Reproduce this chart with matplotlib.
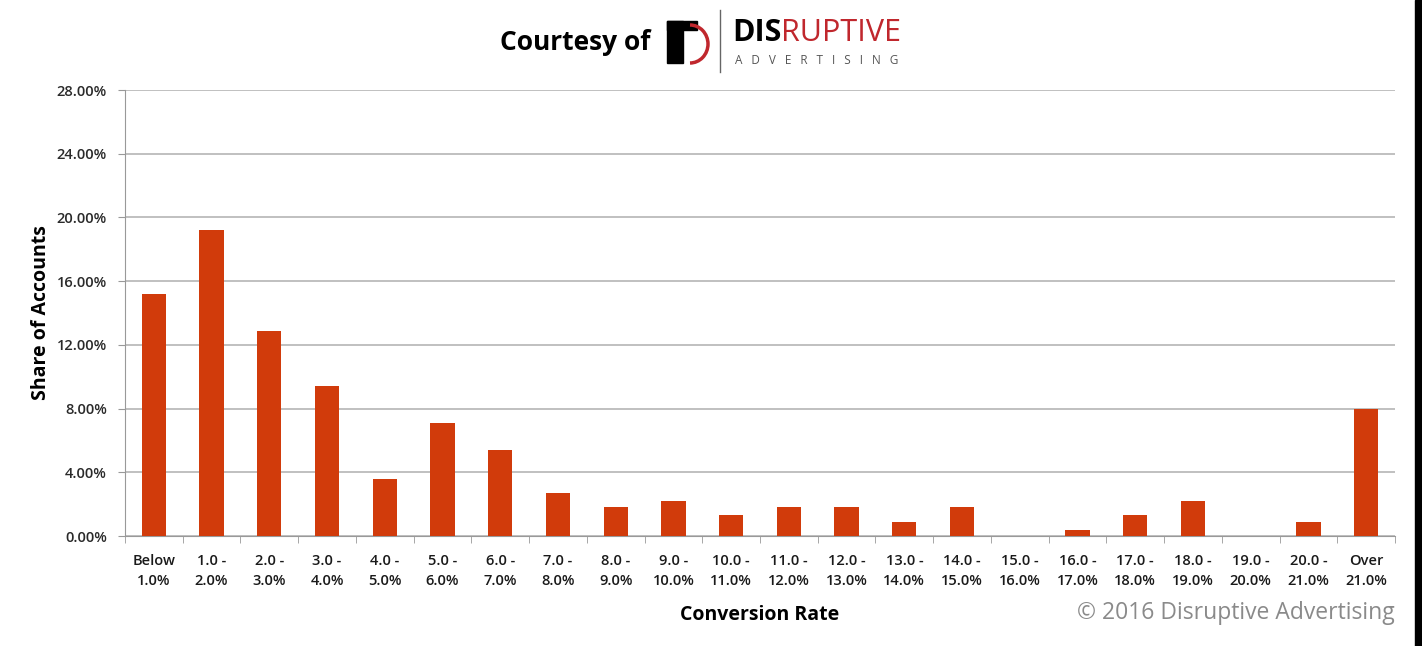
import numpy as np
import matplotlib.pyplot as plt
from matplotlib.patches import Rectangle, Arc

plt.rcParams['font.family'] = ['Open Sans', 'DejaVu Sans']

# conversion rate buckets and share of accounts (%)
categories = ['Below\n1.0%', '1.0 -\n2.0%', '2.0 -\n3.0%', '3.0 -\n4.0%', '4.0 -\n5.0%',
              '5.0 -\n6.0%', '6.0 -\n7.0%', '7.0 -\n8.0%', '8.0 -\n9.0%', '9.0 -\n10.0%',
              '10.0 -\n11.0%', '11.0 -\n12.0%', '12.0 -\n13.0%', '13.0 -\n14.0%',
              '14.0 -\n15.0%', '15.0 -\n16.0%', '16.0 -\n17.0%', '17.0 -\n18.0%',
              '18.0 -\n19.0%', '19.0 -\n20.0%', '20.0 -\n21.0%', 'Over\n21.0%']
share = [15.2, 19.2, 12.9, 9.4, 3.6, 7.1, 5.4, 2.7, 1.8, 2.2, 1.3,
         1.8, 1.8, 0.9, 1.8, 0.0, 0.4, 1.3, 2.2, 0.0, 0.9, 8.0]
yticks = [0, 4, 8, 12, 16, 20, 24, 28]

bar_color = '#d13b0b'

fig = plt.figure(figsize=(14.22, 6.46), dpi=100)
ax = fig.add_axes([125 / 1422, 1 - 536 / 646, 1270 / 1422, 446 / 646])

x = np.arange(len(categories))
ax.bar(x, share, width=0.42, color=bar_color, zorder=3)

ax.set_xlim(-0.5, len(categories) - 0.5)
ax.set_ylim(0, 28)
ax.set_yticks(yticks)
ax.set_yticklabels(['%.2f%%' % v for v in yticks], fontsize=10.5, color='#2a2a2a',
                   fontweight='semibold')
ax.set_xticks(x)
ax.set_xticklabels(categories, fontsize=10.5, color='#1a1a1a', linespacing=1.55,
                   fontweight='semibold')
ax.set_xticks(np.arange(-0.5, len(categories)), minor=True)
ax.tick_params(axis='x', which='major', length=0, pad=13)
ax.tick_params(axis='x', which='minor', length=5, color='#999999')
ax.tick_params(axis='y', length=5, color='#999999', pad=8)

ax.grid(axis='y', color='#b5b5b5', linewidth=1.2, zorder=0)
for s in ['top', 'right']:
    ax.spines[s].set_visible(False)
ax.spines['left'].set_color('#999999')
ax.spines['bottom'].set_color('#999999')

ax.set_ylabel('Share of Accounts', fontsize=14, fontweight='bold', labelpad=4)
ax.set_xlabel('Conversion Rate', fontsize=14, fontweight='bold', labelpad=12)

# footer and header
fig.text(1395 / 1422, 1 - 613 / 646, '\u00a9 2016 Disruptive Advertising', ha='right',
         va='center', fontsize=16.5, color='#8a8a8a')
fig.text(651 / 1422, 1 - 43 / 646, 'Courtesy of', ha='right', va='center',
         fontsize=19, fontweight='bold', color='black')

# simple logo mark
fig.patches.append(Rectangle((667 / 1422, 1 - 63 / 646), 16 / 1422, 42 / 646,
                             transform=fig.transFigure, color='black'))
fig.patches.append(Rectangle((667 / 1422, 1 - 30 / 646), 30 / 1422, 9 / 646,
                             transform=fig.transFigure, color='black'))
fig.patches.append(Arc((690 / 1422, 1 - 44 / 646), 36 / 1422, 38 / 646, theta1=-90, theta2=90,
                       transform=fig.transFigure, color='#c0272d', linewidth=2.5))
fig.add_artist(plt.Line2D([720 / 1422, 720 / 1422], [1 - 72 / 646, 1 - 10 / 646],
                          transform=fig.transFigure, color='#666666', linewidth=1))
fig.text(732 / 1422, 1 - 33 / 646, 'DIS', ha='left', va='center', fontsize=22,
         fontweight='bold', color='black')
fig.text(781 / 1422, 1 - 33 / 646, 'RUPTIVE', ha='left', va='center', fontsize=22,
         color='#c0272d')
fig.text(735 / 1422, 1 - 60 / 646, 'A   D   V   E   R   T   I   S   I   N   G', ha='left',
         va='center', fontsize=8.5, color='#555555')

# right border seen in the reference
fig.patches.append(Rectangle((1415 / 1422, 0), 7 / 1422, 1, transform=fig.transFigure,
                             color='black'))

fig.savefig('out.png', dpi=100)
